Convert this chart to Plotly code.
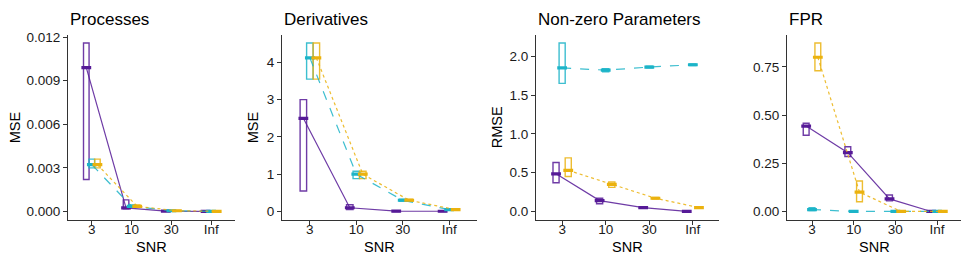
import plotly.graph_objects as go

snr_labels = ["3", "10", "30", "Inf"]
method_colors = ["#561A97", "#1CB4C8", "#EBB20E"]
method_dashes = ["solid", "dash", "dot"]

panel_titles = ["Processes", "Derivatives", "Non-zero Parameters", "FPR"]
panel_ytitles = ["MSE", "MSE", "RMSE", ""]

# each list: [purple, teal, gold] x SNR (3, 10, 30, Inf)
processes_median = [[0.0099, 0.00025, 0.00002, 0.0],
                    [0.00322, 0.00035, 0.00005, 0.00001],
                    [0.00322, 0.00035, 0.00005, 0.00001]]
processes_low = [[0.0022, 0.00018, 0.00001, 0.0],
                 [0.0030, 0.00028, 0.00003, 0.0],
                 [0.0030, 0.00030, 0.00003, 0.0]]
processes_high = [[0.0116, 0.0008, 0.00004, 0.00001],
                  [0.0036, 0.00045, 0.00007, 0.00002],
                  [0.0036, 0.00045, 0.00007, 0.00002]]

derivatives_median = [[2.5, 0.1, 0.01, 0.005],
                      [4.12, 1.0, 0.3, 0.05],
                      [4.12, 1.0, 0.3, 0.05]]
derivatives_low = [[0.55, 0.05, 0.0, 0.0],
                   [3.55, 0.88, 0.27, 0.03],
                   [3.55, 0.88, 0.27, 0.03]]
derivatives_high = [[3.0, 0.18, 0.02, 0.01],
                    [4.52, 1.08, 0.33, 0.07],
                    [4.52, 1.08, 0.33, 0.07]]

nonzero_median = [[0.485, 0.14, 0.05, 0.0],
                  [1.85, 1.82, 1.86, 1.89],
                  [0.53, 0.35, 0.17, 0.05]]
nonzero_low = [[0.37, 0.10, 0.04, 0.0],
               [1.65, 1.80, 1.85, 1.88],
               [0.45, 0.31, 0.16, 0.04]]
nonzero_high = [[0.63, 0.17, 0.06, 0.01],
                [2.17, 1.84, 1.87, 1.90],
                [0.69, 0.38, 0.18, 0.06]]

fpr_median = [[0.443, 0.305, 0.065, 0.0],
              [0.01, 0.0, 0.0, 0.0],
              [0.80, 0.10, 0.0, 0.0]]
fpr_low = [[0.395, 0.285, 0.055, 0.0],
           [0.005, 0.0, 0.0, 0.0],
           [0.73, 0.05, 0.0, 0.0]]
fpr_high = [[0.458, 0.336, 0.085, 0.0],
            [0.02, 0.0, 0.0, 0.0],
            [0.874, 0.158, 0.0, 0.0]]

panels = [
    (processes_median, processes_low, processes_high, [0, 0.003, 0.006, 0.009, 0.012], ".3f"),
    (derivatives_median, derivatives_low, derivatives_high, [0, 1, 2, 3, 4], "d"),
    (nonzero_median, nonzero_low, nonzero_high, [0, 0.5, 1.0, 1.5, 2.0], ".1f"),
    (fpr_median, fpr_low, fpr_high, [0, 0.25, 0.5, 0.75], ".2f"),
]

# page body margin offsets the figure by 8px
OFF = 8
W, H = 969 - OFF, 264 - OFF


def fx(px):
    return (px - OFF) / W


def fy(px):
    return 1 - (px - OFF) / H


x_domains_px = [(68, 235), (282, 477), (536, 719), (787, 962)]
ytitle_x_px = [15, 253, 497, None]
plot_top, plot_bot = 30, 219
y_domain = [fy(plot_bot), fy(plot_top)]

dodge = 0.14
box_w = 0.14
font_family = "Liberation Sans, Arial, sans-serif"

fig = go.Figure()
layout_axes = {}
annotations = []

for p, (med, low, high, yticks, fmt) in enumerate(panels):
    xa = "x" if p == 0 else f"x{p+1}"
    ya = "y" if p == 0 else f"y{p+1}"
    for m in range(3):
        xs = [i + 1 + (m - 1) * dodge for i in range(len(snr_labels))]
        col = method_colors[m]
        fig.add_trace(go.Scatter(
            x=xs, y=med[m], mode="lines", xaxis=xa, yaxis=ya,
            line=dict(color=col, width=1.2, dash=method_dashes[m]),
            opacity=0.85, showlegend=False, hoverinfo="skip"))
        fig.add_trace(go.Box(
            x=xs, q1=low[m], median=med[m], q3=high[m],
            lowerfence=low[m], upperfence=high[m],
            width=box_w, whiskerwidth=0, boxpoints=False,
            line=dict(color=col, width=1.4), fillcolor="rgba(0,0,0,0)",
            opacity=0.85, xaxis=xa, yaxis=ya, showlegend=False, hoverinfo="skip"))
        fig.add_trace(go.Scatter(
            x=xs, y=med[m], mode="markers", xaxis=xa, yaxis=ya,
            marker=dict(symbol="line-ew", size=7, color=col,
                        line=dict(color=col, width=3.2)),
            showlegend=False, hoverinfo="skip"))

    all_vals = [v for s in low for v in s] + [v for s in high for v in s]
    lo, hi = min(all_vals), max(all_vals)
    pad = 0.05 * (hi - lo)

    d0, d1 = x_domains_px[p]
    axis_common = dict(showline=True, linecolor="#333333", linewidth=1.1,
                       ticks="outside", ticklen=4, tickcolor="#333333", tickwidth=1.1,
                       showgrid=False, zeroline=False,
                       tickfont=dict(family=font_family, size=13.5, color="#1a1a1a"))
    layout_axes["xaxis" if p == 0 else f"xaxis{p+1}"] = dict(
        axis_common, domain=[fx(d0), fx(d1)], range=[0.4, 4.6],
        tickvals=[1, 2, 3, 4], ticktext=snr_labels, anchor=ya,
        ticklabelstandoff=-7)
    layout_axes["yaxis" if p == 0 else f"yaxis{p+1}"] = dict(
        axis_common, domain=y_domain, range=[lo - pad, hi + pad],
        tickvals=yticks, tickformat=fmt, anchor=xa)

    annotations.append(dict(
        text=panel_titles[p], x=fx(d0), y=fy(15), xref="paper", yref="paper",
        xanchor="left", yanchor="middle", showarrow=False,
        font=dict(family=font_family, size=17, color="black")))
    annotations.append(dict(
        text="SNR", x=fx((d0 + d1) / 2), y=fy(247), xref="paper", yref="paper",
        xanchor="center", yanchor="middle", showarrow=False,
        font=dict(family=font_family, size=14.5, color="black")))
    if panel_ytitles[p]:
        annotations.append(dict(
            text=panel_ytitles[p], x=fx(ytitle_x_px[p]), y=fy((plot_top + plot_bot) / 2),
            xref="paper", yref="paper", xanchor="center", yanchor="middle",
            textangle=-90, showarrow=False,
            font=dict(family=font_family, size=14.5, color="black")))

fig.update_layout(
    width=W, height=H, margin=dict(l=0, r=0, t=0, b=0),
    paper_bgcolor="white", plot_bgcolor="white",
    annotations=annotations, **layout_axes)

fig.write_html("out.html")
